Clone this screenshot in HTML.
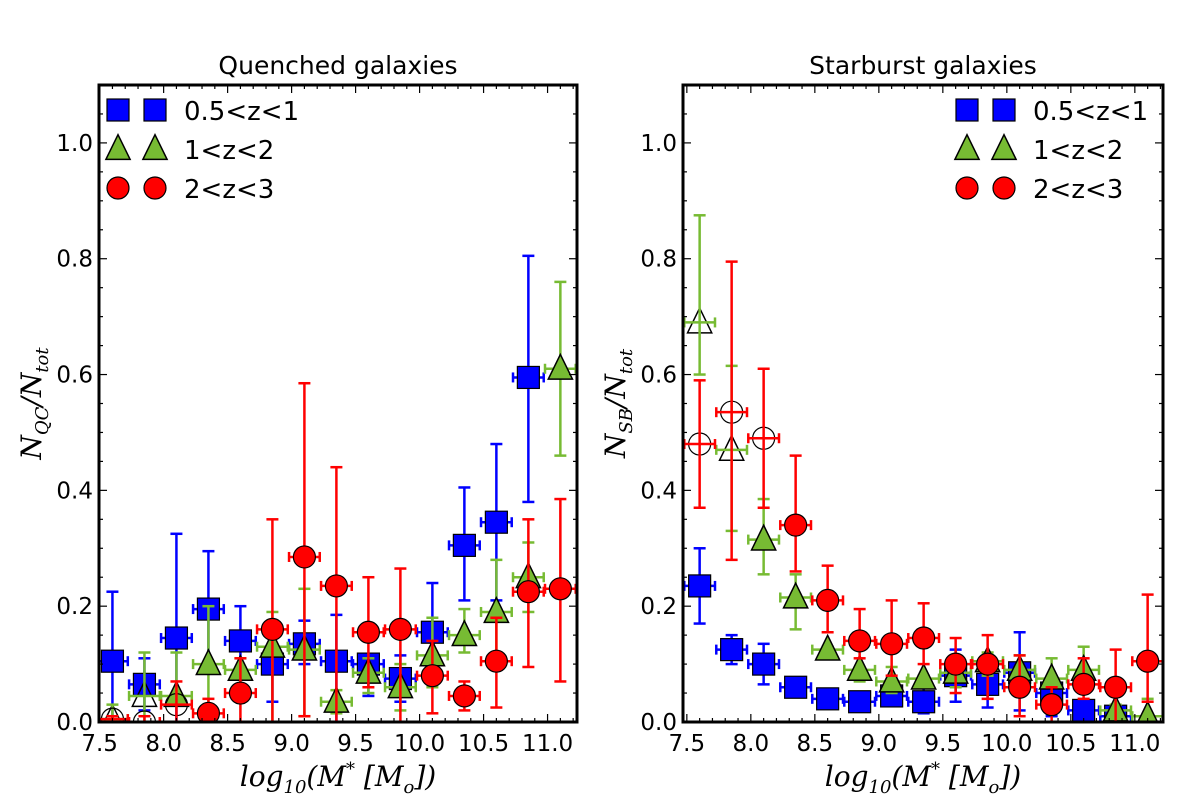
<!DOCTYPE html>
<html><head><meta charset="utf-8"><style>
body{margin:0;background:#fff;}
svg text{font-family:"DejaVu Sans","Liberation Sans",sans-serif;}
svg text.math{font-family:"DejaVu Serif","Liberation Serif",serif;font-style:italic;}
</style></head><body>
<svg id="fig" width="1200" height="807" xmlns="http://www.w3.org/2000/svg"></svg>
<script>
const xs=[7.6,7.85,8.1,8.35,8.6,8.85,9.1,9.35,9.6,9.85,10.1,10.35,10.6,10.85,11.1];
const xTicks=[7.5,8.0,8.5,9.0,9.5,10.0,10.5,11.0];
const yTicks=[0.0,0.2,0.4,0.6,0.8,1.0];
// [y, yUp, yLow, open?] ; null = missing
const qBlue=[[0.105,0.225,0.0],[0.065,0.11,0.02],[0.145,0.325,0.0],[0.195,0.295,0.1],[0.14,0.2,0.09],[0.10,0.11,0.035],[0.135,0.175,0.1],[0.105,0.185,0.0],[0.10,0.105,0.045],[0.075,0.115,0.035],[0.155,0.24,0.1],[0.305,0.405,0.21],[0.345,0.48,0.21],[0.595,0.805,0.38],null];
const qGreen=[[0.005,0.03,0.0,1],[0.045,0.12,0.0,1],[0.045,0.12,0.035],[0.10,0.2,0.0],[0.09,0.11,0.05],[0.13,0.19,0.0],[0.125,0.23,0.01],[0.035,0.055,0.015],[0.085,0.11,0.05],[0.06,0.1,0.02],[0.115,0.18,0.06],[0.15,0.195,0.12],[0.19,0.28,0.1],[0.25,0.31,0.19],[0.61,0.76,0.46]];
const qRed=[[0.005,0.01,0.0,1],[0.0,0.01,0.0,1],[0.03,0.07,0.0,1],[0.015,0.04,0.0],[0.05,0.11,0.0],[0.16,0.35,0.0],[0.285,0.585,0.01],[0.235,0.44,0.0],[0.155,0.25,0.06],[0.16,0.265,0.0],[0.08,0.14,0.015],[0.045,0.07,0.02],[0.105,0.18,0.025],[0.225,0.35,0.095],[0.23,0.385,0.07]];
const sBlue=[[0.235,0.3,0.17],[0.125,0.15,0.1],[0.10,0.135,0.065],[0.06,0.06,0.06],[0.04,0.04,0.04],[0.035,0.035,0.035],[0.045,0.045,0.045],[0.035,0.06,0.015],[0.08,0.125,0.035],[0.065,0.11,0.025],[0.085,0.155,0.02],[0.05,0.05,0.01],[0.02,0.03,0.0],[0.01,0.02,0.0],null];
const sGreen=[[0.69,0.875,0.6,1],[0.47,0.615,0.33,1],[0.315,0.385,0.255],[0.215,0.255,0.16],[0.125,0.13,0.11],[0.09,0.09,0.07],[0.07,0.095,0.05],[0.075,0.08,0.06],[0.085,0.1,0.06],[0.105,0.12,0.08],[0.09,0.115,0.06],[0.075,0.11,0.04],[0.09,0.13,0.06],[0.02,0.03,0.0],[0.01,0.04,0.0]];
const sRed=[[0.48,0.59,0.37,1],[0.535,0.795,0.28,1],[0.49,0.61,0.37,1],[0.34,0.46,0.26],[0.21,0.27,0.155],[0.14,0.195,0.11],[0.135,0.21,0.08],[0.145,0.205,0.1],[0.10,0.145,0.05],[0.10,0.15,0.04],[0.06,0.115,0.01],[0.03,0.06,0.0],[0.065,0.11,0.04],[0.06,0.125,0.0],[0.105,0.22,0.035]];
const YMIN=0,YMAX=1.1;
const NS="http://www.w3.org/2000/svg";
const fig=document.getElementById('fig');
function mk(tag,attrs,parent){const e=document.createElementNS(NS,tag);for(const k in attrs)e.setAttribute(k,attrs[k]);(parent||fig).appendChild(e);return e;}
const COL={b:'#0000ff',g:'#77bb33',r:'#ff0000'};
function marker(g,type,cx,cy,fill,s){
  let e;
  if(type==='s'){e=mk('rect',{x:cx-s/2,y:cy-s/2,width:s,height:s,fill:fill,stroke:'#000','stroke-width':1.2},g);}
  else if(type==='t'){const h=s*1.05;e=mk('polygon',{points:`${cx},${cy-h*0.62} ${cx-s*0.55},${cy+h*0.45} ${cx+s*0.55},${cy+h*0.45}`,fill:fill,stroke:'#000','stroke-width':1.5},g);}
  else{e=mk('circle',{cx:cx,cy:cy,r:s/2,fill:fill,stroke:'#000','stroke-width':1.2},g);}
  return e;
}
function panel(L,R,T,B,XMIN,XMAX,title,ylab,series,legendX){
  const sx=v=>L+(v-XMIN)/(XMAX-XMIN)*(R-L);
  const sy=v=>B-(v-YMIN)/(YMAX-YMIN)*(B-T);
  const g=mk('g',{});
  
  
  const clipId='c'+L;
  const cp=mk('clipPath',{id:clipId},g);mk('rect',{x:L,y:T,width:R-L,height:B-T},cp);
  const plot=mk('g',{'clip-path':`url(#${clipId})`},g);
  series.forEach(([data,type,col,name])=>{
    const sg=mk('g',{},plot);
    
    
    data.forEach((d,i)=>{
      if(!d)return;
      const cx=sx(xs[i]),cy=sy(d[0]);
      const x1=sx(xs[i]-0.12),x2=sx(xs[i]+0.12),yu=sy(d[1]),yl=sy(d[2]);
      const bars=()=>{
      mk('line',{x1:cx,x2:cx,y1:yu,y2:yl,stroke:col,'stroke-width':2.5},sg);
      mk('line',{x1:cx-6,x2:cx+6,y1:yu,y2:yu,stroke:col,'stroke-width':2.5},sg);
      mk('line',{x1:cx-6,x2:cx+6,y1:yl,y2:yl,stroke:col,'stroke-width':2.5},sg);
      mk('line',{x1:x1,x2:x2,y1:cy,y2:cy,stroke:col,'stroke-width':2.5},sg);
      mk('line',{x1:x1,x2:x1,y1:cy-5,y2:cy+5,stroke:col,'stroke-width':2.5},sg);
      mk('line',{x1:x2,x2:x2,y1:cy-5,y2:cy+5,stroke:col,'stroke-width':2.5},sg);};
      if(!d[3])bars();
      const m=marker(sg,type,cx,cy,d[3]?'none':col,22);
      
      
      if(d[3])bars();
    });
  });
  const fr=mk('rect',{x:L,y:T,width:R-L,height:B-T,fill:'none',stroke:'#000','stroke-width':3},g);
  
  
  for(let k=Math.ceil(XMIN*10);k<=Math.floor(XMAX*10);k++){const v=k/10;const x=sx(v);const major=(k%5===0);const len=major?8:4;
    mk('line',{x1:x,x2:x,y1:B,y2:B-len,stroke:'#000','stroke-width':1.2},g);mk('line',{x1:x,x2:x,y1:T,y2:T+len,stroke:'#000','stroke-width':1.2},g);}
  xTicks.forEach(v=>{const t=mk('text',{x:sx(v),y:B+29,'text-anchor':'middle','font-size':23},g);t.textContent=v.toFixed(1);
    });
  for(let k=0;k<=22;k++){const y=sy(k*0.05);const len=(k%4===0)?8:4;
    mk('line',{x1:L,x2:L+len,y1:y,y2:y,stroke:'#000','stroke-width':1.2},g);mk('line',{x1:R,x2:R-len,y1:y,y2:y,stroke:'#000','stroke-width':1.2},g);}
  yTicks.forEach(v=>{const t=mk('text',{x:L-6,y:sy(v)+8,'text-anchor':'end','font-size':23},g);t.textContent=v.toFixed(1);
    });
  const tt=mk('text',{x:(L+R)/2,y:T-11,'text-anchor':'middle','font-size':25},g);tt.textContent=title;
  
  const xl=mk('text',{x:(L+R)/2,y:B+64,'text-anchor':'middle','font-size':28,'class':'math'},g);
  xl.innerHTML='log<tspan font-size="18" dy="7">10</tspan><tspan dy="-7">(M</tspan><tspan font-size="18" dy="-11">*</tspan><tspan dy="11"> [M</tspan><tspan font-size="18" dy="7">o</tspan><tspan dy="-7">])</tspan>';
  
  const yl=mk('text',{transform:`translate(${L-58},${(T+B)/2}) rotate(-90)`,'text-anchor':'middle','font-size':28,'class':'math'},g);
  yl.innerHTML='N<tspan font-size="18" dy="7">'+ylab+'</tspan><tspan dy="-7">/N</tspan><tspan font-size="18" dy="7">tot</tspan>';
  
  const lg=mk('g',{},g);
  [['s',COL.b,'0.5<z<1'],['t',COL.g,'1<z<2'],['c',COL.r,'2<z<3']].forEach((e,i)=>{
    const y=110+i*39;
    const eg=mk('g',{},lg);
    marker(eg,e[0],legendX,y,e[1],22);marker(eg,e[0],legendX+37,y,e[1],22);
    const t=mk('text',{x:legendX+66,y:y+10,'font-size':26},eg);t.textContent=e[2];
  });
}
panel(99,577,85,722,7.495,11.23,'Quenched galaxies','QC',[[qBlue,'s','#0000ff','quenched-0.5-1'],[qGreen,'t','#77bb33','quenched-1-2'],[qRed,'c','#ff0000','quenched-2-3']],118);
panel(683,1163,85,722,7.47,11.22,'Starburst galaxies','SB',[[sBlue,'s','#0000ff','starburst-0.5-1'],[sGreen,'t','#77bb33','starburst-1-2'],[sRed,'c','#ff0000','starburst-2-3']],967);
</script>
</body></html>
